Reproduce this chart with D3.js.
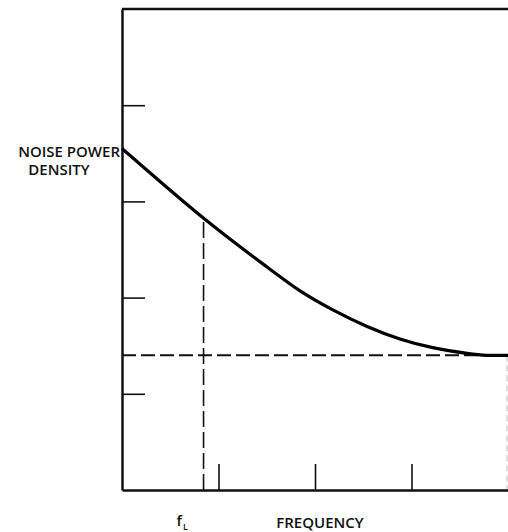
<!DOCTYPE html>
<html>
<head>
<meta charset="utf-8">
<script src="https://cdn.jsdelivr.net/npm/d3@7"></script>
<style>
  body { margin: 0; background: #fff; }
  text { font-family: "Open Sans", sans-serif; font-weight: 600; fill: #111; }
</style>
</head>
<body>
<div id="chart"></div>
<script>
// Values (axis units, 0..4 along x, 0..5 along y)
var freq  = [0, 0.84, 1.50, 1.845, 2.19, 2.54, 2.88, 3.22, 3.575, 3.78, 4.0];
var noise = [3.55, 2.83, 2.32, 2.07, 1.87, 1.70, 1.57, 1.48, 1.42, 1.40, 1.40];
var fL = 0.845;        // dashed vertical marker
var noiseFloor = 1.40; // dashed horizontal asymptote
var xTicks = [1, 2, 3];
var yTicks = [1, 2, 3, 4];

var width = 508, height = 532;
var margin = {top: 9, right: 0, bottom: 42, left: 122};

var svg = d3.select("#chart").append("svg")
  .attr("width", width)
  .attr("height", height);

var x = d3.scaleLinear().domain([0, 4]).range([margin.left, width - margin.right]);
var y = d3.scaleLinear().domain([0, 5]).range([height - margin.bottom, margin.top]);

// faint right edge
svg.append("line")
  .attr("x1", x(4) - 1).attr("x2", x(4) - 1)
  .attr("y1", y(noiseFloor)).attr("y2", y(0))
  .attr("stroke", "#bbb")
  .attr("stroke-width", 1)
  .attr("stroke-dasharray", "6,4");

// top border
svg.append("line")
  .attr("x1", x(0)).attr("x2", x(4))
  .attr("y1", y(5)).attr("y2", y(5))
  .attr("stroke", "#111")
  .attr("stroke-width", 2.5);

// axes, ticks pointing inward, no labels
var yAxis = svg.append("g")
  .attr("transform", "translate(" + x(0) + ",0)")
  .call(d3.axisLeft(y).tickValues(yTicks).tickSize(-23).tickSizeOuter(0).tickFormat(""));
var xAxis = svg.append("g")
  .attr("transform", "translate(0," + y(0) + ")")
  .call(d3.axisBottom(x).tickValues(xTicks).tickSize(-26).tickSizeOuter(0).tickFormat(""));

yAxis.select(".domain").attr("stroke", "#111").attr("stroke-width", 2.5);
xAxis.select(".domain").attr("stroke", "#111").attr("stroke-width", 2.5);
svg.selectAll(".tick line").attr("stroke", "#111").attr("stroke-width", 1.6);

// dashed reference lines
svg.append("line")
  .attr("x1", x(0)).attr("x2", x(4))
  .attr("y1", y(noiseFloor)).attr("y2", y(noiseFloor))
  .attr("stroke", "#111")
  .attr("stroke-width", 2)
  .attr("stroke-dasharray", "14,5");

var fLIndex = 1;
svg.append("line")
  .attr("x1", x(fL)).attr("x2", x(fL))
  .attr("y1", y(0)).attr("y2", y(noise[fLIndex]))
  .attr("stroke", "#111")
  .attr("stroke-width", 1.6)
  .attr("stroke-dasharray", "16,5");

// the noise curve
var line = d3.line()
  .x(function(d, i) { return x(freq[i]); })
  .y(function(d) { return y(d); })
  .curve(d3.curveNatural);

svg.append("path")
  .datum(noise)
  .attr("d", line)
  .attr("fill", "none")
  .attr("stroke", "#000")
  .attr("stroke-width", 3.2);

// labels
svg.append("text")
  .attr("x", x(0) - 2).attr("y", y(noise[0]) + 9)
  .attr("text-anchor", "end")
  .style("font-size", "15px")
  .text("NOISE POWER");
svg.append("text")
  .attr("x", 59).attr("y", y(noise[0]) + 27)
  .attr("text-anchor", "middle")
  .style("font-size", "15px")
  .text("DENSITY");

svg.append("text")
  .attr("x", 320).attr("y", 528)
  .attr("text-anchor", "middle")
  .style("font-size", "15px")
  .text("FREQUENCY");

var fLabel = svg.append("text")
  .attr("x", x(fL) - 27).attr("y", 526)
  .style("font-size", "15px");
fLabel.append("tspan").text("f");
fLabel.append("tspan").attr("dy", 4).attr("dx", 1).style("font-size", "9px").text("L");
</script>
</body>
</html>
